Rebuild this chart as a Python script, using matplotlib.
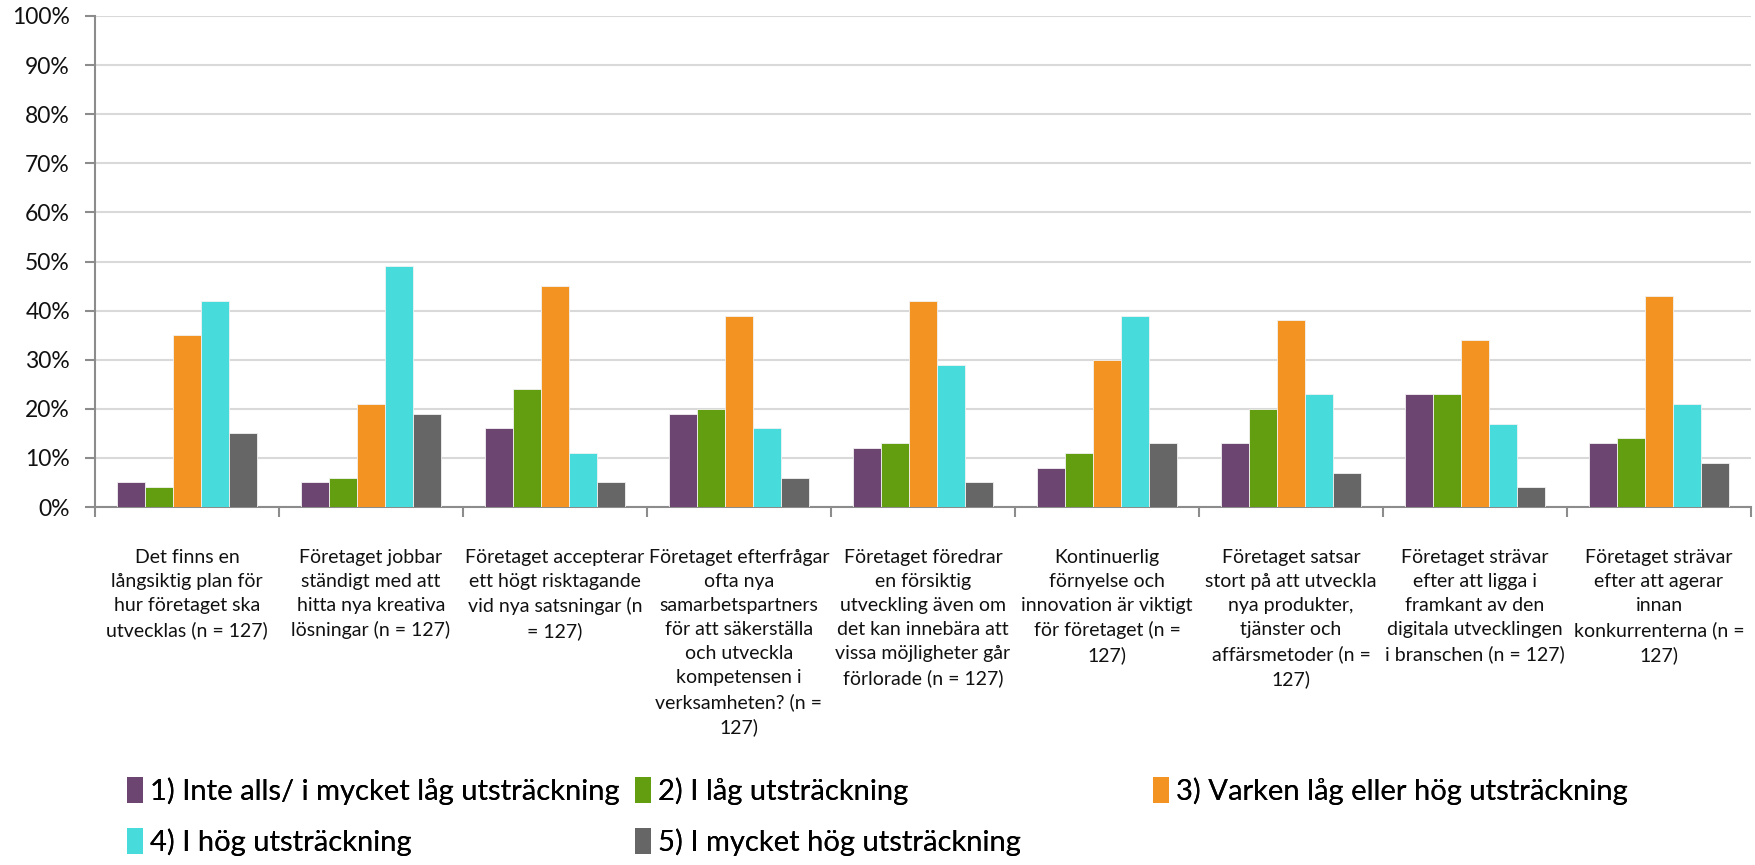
import matplotlib
matplotlib.use("Agg")
import matplotlib.pyplot as plt
from matplotlib.patches import Patch
from matplotlib.ticker import FixedLocator, PercentFormatter
import numpy as np

plt.rcParams['font.family'] = ['Lato', 'DejaVu Sans']

categories = [
    "Det finns en\nlångsiktig plan för\nhur företaget ska\nutvecklas (n = 127)",
    "Företaget jobbar\nständigt med att\nhitta nya kreativa\nlösningar (n = 127)",
    "Företaget accepterar\nett högt risktagande\nvid nya satsningar (n\n= 127)",
    "Företaget efterfrågar\nofta nya\nsamarbetspartners\nför att säkerställa\noch utveckla\nkompetensen i\nverksamheten? (n =\n127)",
    "Företaget föredrar\nen försiktig\nutveckling även om\ndet kan innebära att\nvissa möjligheter går\nförlorade (n = 127)",
    "Kontinuerlig\nförnyelse och\ninnovation är viktigt\nför företaget (n =\n127)",
    "Företaget satsar\nstort på att utveckla\nnya produkter,\ntjänster och\naffärsmetoder (n =\n127)",
    "Företaget strävar\nefter att ligga i\nframkant av den\ndigitala utvecklingen\ni branschen (n = 127)",
    "Företaget strävar\nefter att agerar\ninnan\nkonkurrenterna (n =\n127)",
]

series_names = [
    "1) Inte alls/ i mycket låg utsträckning",
    "2) I låg utsträckning",
    "3) Varken låg eller hög utsträckning",
    "4) I hög utsträckning",
    "5) I mycket hög utsträckning",
]

s1 = [5, 5, 16, 19, 12, 8, 13, 23, 13]
s2 = [4, 6, 24, 20, 13, 11, 20, 23, 14]
s3 = [35, 21, 45, 39, 42, 30, 38, 34, 43]
s4 = [42, 49, 11, 16, 29, 39, 23, 17, 21]
s5 = [15, 19, 5, 6, 5, 13, 7, 4, 9]
series = [s1, s2, s3, s4, s5]

colors = ["#6C4570", "#639E11", "#F39322", "#47DBDB", "#666666"]

fig = plt.figure(figsize=(17.56, 8.65), dpi=100)
ax = fig.add_axes([95/1756, 1 - 507/865, (1751-95)/1756, (507-16)/865])

n = len(categories)
x = np.arange(n)
bw = 0.152
handles = []
for i, (vals, c, name) in enumerate(zip(series, colors, series_names)):
    offs = (i - 2) * bw
    ax.bar(x + offs, vals, width=bw, color=c, edgecolor='#F2F2F2',
           linewidth=0.6, label=name, zorder=3)
    handles.append(Patch(facecolor=c, edgecolor='none', label=name))

ax.set_xlim(-0.5, n - 0.5)
ax.set_ylim(0, 100)
ax.yaxis.set_major_locator(FixedLocator(np.arange(0, 101, 10)))
ax.yaxis.set_major_formatter(PercentFormatter(decimals=0))
ax.grid(axis='y', color='#D9D9D9', linewidth=1.5, zorder=0)
ax.set_axisbelow(True)

for side in ['top', 'right']:
    ax.spines[side].set_visible(False)
for side in ['left', 'bottom']:
    ax.spines[side].set_color('#8C8C8C')
    ax.spines[side].set_linewidth(1.5)

ax.tick_params(axis='y', length=7, width=1.5, color='#8C8C8C', pad=11,
               labelsize=16.5, labelcolor='#111111')
ax.set_xticks(x)
ax.set_xticklabels(categories, fontsize=14, linespacing=1.5, color='#111111')
ax.set_xticks(np.arange(-0.5, n, 1), minor=True)
ax.tick_params(axis='x', which='major', length=0, pad=30)
ax.tick_params(axis='x', which='minor', length=7, width=1.5, color='#8C8C8C')

leg_pos = [(127, 791), (635, 791), (1153, 791), (127, 842), (635, 842)]
for h, (px, py) in zip(handles, leg_pos):
    lg = fig.legend(handles=[h], loc='center left',
                    bbox_to_anchor=(px/1756, 1 - py/865),
                    frameon=False, fontsize=21, handlelength=0.55,
                    handleheight=1.0, handletextpad=0.25, borderpad=0,
                    borderaxespad=0)
    fig.add_artist(lg)

fig.savefig("out.png", dpi=100)
